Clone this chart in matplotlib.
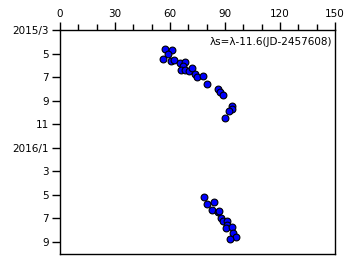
import numpy as np
import matplotlib
matplotlib.use('Agg')
import matplotlib.pyplot as plt
from matplotlib.ticker import MultipleLocator

# x: solar longitude offset, y: months after 2015/3
x_2015 = [57.3, 61.3, 59.1, 56.4, 60.7, 62.4, 65.6, 68.0, 67.3, 66.0, 68.2,
          70.5, 72.2, 73.5, 74.9, 78.2, 80.4, 86.4, 87.5, 89.1, 94.0, 94.0,
          92.0, 90.2]
y_2015 = [1.64, 1.70, 2.04, 2.50, 2.66, 2.55, 2.83, 2.75, 3.06, 3.43, 3.37,
          3.51, 3.26, 3.74, 4.02, 3.89, 4.59, 5.02, 5.24, 5.53, 6.46, 6.69,
          6.89, 7.48]
x_2016 = [78.7, 80.4, 83.8, 82.9, 86.0, 86.7, 87.8, 89.1, 91.3, 90.9, 90.5,
          94.0, 94.5, 95.8, 92.7]
y_2016 = [14.23, 14.80, 14.63, 15.33, 15.50, 15.39, 15.99, 16.21, 16.24,
          16.58, 16.87, 16.78, 17.29, 17.57, 17.80]

ytick_pos = [0, 2, 4, 6, 8, 10, 12, 14, 16, 18]
ytick_lab = ['2015/3', '5', '7', '9', '11', '2016/1', '3', '5', '7', '9']

fig = plt.figure(figsize=(3.55, 2.72), dpi=100)
ax = fig.add_axes([60/355, 1 - 254/272, 275/355, 224/272])

ax.scatter(x_2015 + x_2016, y_2015 + y_2016, s=24, c='#0000ff',
           edgecolors='black', linewidths=0.8, zorder=3)

ax.set_xlim(0, 150)
ax.set_ylim(19.05, 0)
ax.xaxis.set_major_locator(MultipleLocator(30))
ax.xaxis.set_minor_locator(MultipleLocator(10))
ax.xaxis.tick_top()
ax.tick_params(axis='x', which='major', length=6, width=1, labelsize=7.5, pad=2)
ax.tick_params(axis='x', which='minor', length=4, width=1)
ax.set_yticks(ytick_pos)
ax.set_yticklabels(ytick_lab)
ax.tick_params(axis='y', length=6, width=1, labelsize=7.5, pad=2)
for s in ax.spines.values():
    s.set_linewidth(1)

ax.text(0.99, 0.97, 'λs=λ-11.6(JD-2457608)', transform=ax.transAxes,
        ha='right', va='top', fontsize=7.5)

fig.savefig('out.png', dpi=100)
